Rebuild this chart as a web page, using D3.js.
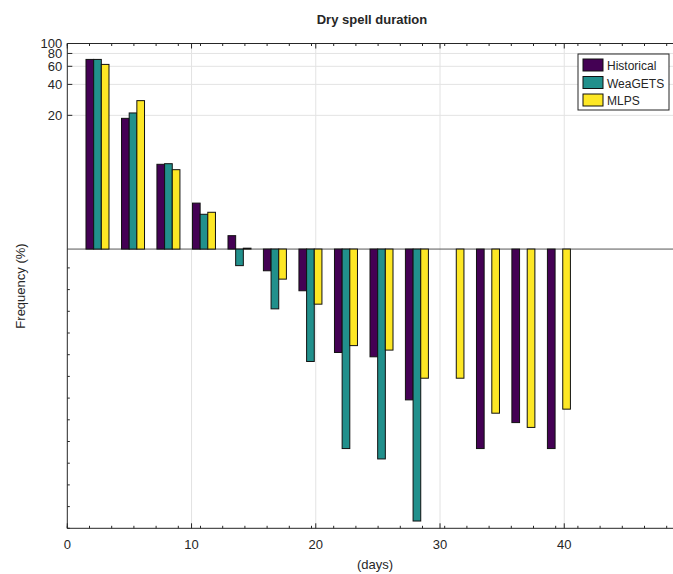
<!DOCTYPE html>
<html>
<head>
    <title>Dry spell duration</title>
<script src="https://d3js.org/d3.v7.min.js"></script>
<style>
  body { margin: 0; background: #fff; }
  text { font-family: "Liberation Sans", Arial, sans-serif; fill: #262626; }
</style>
</head>
<body>
<script type="text/javascript">
var width = 673,
    height = 574;

// bin centres (days)
var days = [2.43, 5.29, 8.14, 11.0, 13.86, 16.71, 19.57, 22.43, 25.29, 28.14, 31.0, 33.86, 36.71, 39.57];
var series = ["Historical", "WeaGETS", "MLPS"];
var historical = [70, 18.7, 6.68, 2.8, 1.35, 0.615, 0.393, 0.0986, 0.0895, 0.0341, 0, 0.01146, 0.0205, 0.01146];
var weagets    = [70, 21.1, 6.77, 2.18, 0.69, 0.262, 0.0806, 0.01146, 0.00908, 0.00226, 0, 0, 0, 0];
var mlps       = [62.6, 27.8, 5.92, 2.28, 1.02, 0.51, 0.291, 0.115, 0.104, 0.0554, 0.0554, 0.0253, 0.0184, 0.0277];
var xTicks = [0, 10, 20, 30, 40];
var yTicks = [20, 40, 60, 80, 100];
var colors = ["#440154", "#21908c", "#fde725"];

var margin = {left: 67.3, top: 43.5, bottom: 528.3, right: 688.5};

var svg = d3.select("body").append("svg")
    .attr("width", width)
    .attr("height", height);

var x = d3.scaleLinear().domain([0, 50]).range([margin.left, margin.right]);
var y = d3.scaleLog().domain([0.00192, 100]).range([margin.bottom, margin.top]);

var plot = svg.append("g");

// grid
plot.selectAll(".vgrid").data(xTicks.slice(1))
    .enter().append("line")
    .attr("x1", function(d) { return x(d); })
    .attr("x2", function(d) { return x(d); })
    .attr("y1", margin.top).attr("y2", margin.bottom)
    .attr("stroke", "#e3e3e3").attr("stroke-width", 1);
plot.selectAll(".hgrid").data(yTicks.slice(0, -1))
    .enter().append("line")
    .attr("x1", margin.left).attr("x2", width)
    .attr("y1", function(d) { return y(d); })
    .attr("y2", function(d) { return y(d); })
    .attr("stroke", "#e3e3e3").attr("stroke-width", 1);

// baseline at 1
plot.append("line")
    .attr("x1", margin.left).attr("x2", width)
    .attr("y1", y(1)).attr("y2", y(1))
    .attr("stroke", "#555").attr("stroke-width", 1);

// bars
var bw = 0.617;
var all = [historical, weagets, mlps];
all.forEach(function(vals, i) {
    plot.append("g").selectAll("rect")
        .data(vals.map(function(v, j) { return {v: v, d: days[j]}; }))
        .enter().append("rect")
        .attr("x", function(d) { return x(d.d + (i - 1.5) * bw); })
        .attr("width", x(bw) - x(0))
        .attr("y", function(d) { return d.v > 0 ? Math.min(y(d.v), y(1)) : y(1); })
        .attr("height", function(d) { return d.v > 0 ? Math.abs(y(d.v) - y(1)) : 0; })
        .attr("fill", colors[i])
        .attr("stroke", "#111")
        .attr("stroke-width", 1);
});

// axes frame
var axisCol = "#262626";
plot.append("line").attr("x1", margin.left).attr("x2", margin.left)
    .attr("y1", margin.top).attr("y2", margin.bottom).attr("stroke", axisCol);
plot.append("line").attr("x1", margin.left).attr("x2", width)
    .attr("y1", margin.bottom).attr("y2", margin.bottom).attr("stroke", axisCol);
plot.append("line").attr("x1", margin.left).attr("x2", width)
    .attr("y1", margin.top).attr("y2", margin.top).attr("stroke", axisCol);

// minor ticks (decorative)
var minorX = d3.range(margin.left, width, 22.2);
plot.selectAll(".mx").data(minorX).enter().append("g").each(function(px) {
    d3.select(this).append("line").attr("x1", px).attr("x2", px)
        .attr("y1", margin.bottom).attr("y2", margin.bottom - 2.5).attr("stroke", axisCol);
    d3.select(this).append("line").attr("x1", px).attr("x2", px)
        .attr("y1", margin.top).attr("y2", margin.top + 2.5).attr("stroke", axisCol);
});
var minorY = d3.range(margin.bottom, y(1), -21.7);
plot.selectAll(".my").data(minorY).enter().append("line")
    .attr("x1", margin.left).attr("x2", margin.left + 2.5)
    .attr("y1", function(d) { return d; }).attr("y2", function(d) { return d; })
    .attr("stroke", axisCol);

// major ticks
plot.selectAll(".tx").data(xTicks).enter().append("g").each(function(d) {
    d3.select(this).append("line").attr("x1", x(d)).attr("x2", x(d))
        .attr("y1", margin.bottom).attr("y2", margin.bottom - 5).attr("stroke", axisCol);
    d3.select(this).append("line").attr("x1", x(d)).attr("x2", x(d))
        .attr("y1", margin.top).attr("y2", margin.top + 5).attr("stroke", axisCol);
    d3.select(this).append("text").attr("x", x(d)).attr("y", margin.bottom + 21)
        .attr("text-anchor", "middle").attr("font-size", 13).text(d);
});
plot.selectAll(".ty").data(yTicks).enter().append("g").each(function(d) {
    d3.select(this).append("line").attr("x1", margin.left).attr("x2", margin.left + 5)
        .attr("y1", y(d)).attr("y2", y(d)).attr("stroke", axisCol);
    d3.select(this).append("text").attr("x", margin.left - 5).attr("y", y(d) + 4.5)
        .attr("text-anchor", "end").attr("font-size", 13).text(d);
});

// labels
svg.append("text").attr("x", 372).attr("y", 24).attr("text-anchor", "middle")
    .attr("font-size", 13).attr("font-weight", "bold").text("Dry spell duration");
svg.append("text").attr("x", 375).attr("y", 569).attr("text-anchor", "middle")
    .attr("font-size", 13).text("(days)");
svg.append("text").attr("transform", "translate(25,286) rotate(-90)")
    .attr("text-anchor", "middle").attr("font-size", 13).text("Frequency (%)");

// legend
var leg = svg.append("g").attr("transform", "translate(578,54)");
leg.append("rect").attr("width", 91).attr("height", 56)
    .attr("fill", "#fff").attr("stroke", "#262626");
series.forEach(function(s, i) {
    leg.append("rect").attr("x", 5).attr("y", 5 + i * 17.5)
        .attr("width", 20).attr("height", 12)
        .attr("fill", colors[i]).attr("stroke", "#111");
    leg.append("text").attr("x", 29).attr("y", 16 + i * 17.5)
        .attr("font-size", 12).text(s);
});
</script>
</body>
</html>
